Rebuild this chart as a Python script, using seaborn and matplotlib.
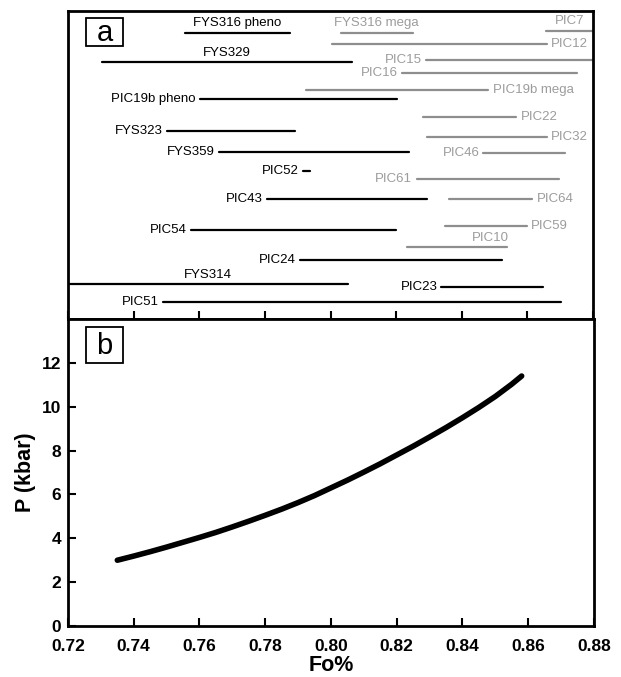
import numpy as np
import pandas as pd
import matplotlib
matplotlib.use("Agg")
import matplotlib.pyplot as plt
from matplotlib.patches import Rectangle
import seaborn as sns

# Panel a: Fo ranges of each sample (pheno = black, mega = grey)
names = ["FYS316 pheno", "FYS329", "PIC19b pheno", "FYS323", "FYS359", "PIC52",
         "PIC43", "PIC54", "PIC24", "FYS314", "PIC23", "PIC51",
         "FYS316 mega", "PIC7", "PIC12", "PIC15", "PIC16", "PIC19b mega",
         "PIC22", "PIC32", "PIC46", "PIC61", "PIC64", "PIC59", "PIC10"]
fo_min = [0.7556, 0.7303, 0.7602, 0.7501, 0.7659, 0.7915,
          0.7805, 0.7574, 0.7906, 0.7200, 0.8338, 0.7489,
          0.8031, 0.8657, 0.8003, 0.8292, 0.8219, 0.7924,
          0.8283, 0.8295, 0.8466, 0.8262, 0.8362, 0.8350, 0.8234]
fo_max = [0.7875, 0.8064, 0.8204, 0.7891, 0.8240, 0.7936,
          0.8295, 0.8198, 0.8523, 0.8052, 0.8648, 0.8703,
          0.8250, 0.8800, 0.8660, 0.8800, 0.8752, 0.8481,
          0.8566, 0.8660, 0.8715, 0.8697, 0.8615, 0.8599, 0.8539]
level = [286, 257, 220, 188, 167, 148, 120, 89, 59, 35, 32, 17,
         286, 288, 275, 259, 246, 229, 202, 182, 166, 140, 120, 93, 72]
kind = ["pheno"] * 12 + ["mega"] * 13
label_pos = ["above", "above", "left", "left", "left", "left", "left", "left",
             "left", "above", "left", "left",
             "above", "above", "right", "left", "left", "right", "right", "right",
             "left", "left", "right", "right", "above_r"]

# Panel b: P-Fo relation
fo_curve = [0.735, 0.74, 0.745, 0.75, 0.755, 0.76, 0.765, 0.77, 0.775, 0.78,
            0.785, 0.79, 0.795, 0.80, 0.805, 0.81, 0.815, 0.82, 0.825,
            0.83, 0.835, 0.84, 0.845, 0.85, 0.855, 0.858]
p_curve = [3.0, 3.19, 3.39, 3.6, 3.82, 4.04, 4.27, 4.52, 4.78, 5.05,
           5.33, 5.63, 5.95, 6.3, 6.65, 7.02, 7.4, 7.8, 8.2,
           8.62, 9.05, 9.5, 9.97, 10.47, 11.03, 11.4]
xticks = [0.72, 0.74, 0.76, 0.78, 0.80, 0.82, 0.84, 0.86, 0.88]
yticks = [0, 2, 4, 6, 8, 10, 12]

sns.set_style("ticks")
plt.rcParams["font.family"] = ["Liberation Sans", "DejaVu Sans"]
plt.rcParams.update({"text.color": "black", "axes.labelcolor": "black",
                     "xtick.color": "black", "ytick.color": "black"})

grey_line = "#8e8e8e"
grey_text = "#9c9c9c"
colors = {"pheno": "black", "mega": grey_line}
tcolors = {"pheno": "black", "mega": grey_text}

seg = pd.DataFrame({
    "sample": np.repeat(names, 2),
    "Fo": np.ravel(np.column_stack([fo_min, fo_max])),
    "level": np.repeat(level, 2),
    "kind": np.repeat(kind, 2),
})

fig = plt.figure(figsize=(6.21, 6.77), dpi=100)
ax_a = fig.add_axes([0.1095, 0.5288, 0.8455, 0.455])
ax_b = fig.add_axes([0.1095, 0.0753, 0.8470, 0.4535])

# ---- panel a
sns.lineplot(data=seg, x="Fo", y="level", units="sample", estimator=None,
             hue="kind", palette=colors, sort=False, legend=False,
             linewidth=1.6, ax=ax_a)
ax_a.set_xlim(0.72, 0.88)
ax_a.set_ylim(0, 308)
ax_a.set_yticks([])
ax_a.set_xticks(xticks)
ax_a.set_xticklabels([])
ax_a.set_xlabel("")
ax_a.set_ylabel("")
ax_a.tick_params(axis="x", direction="in", length=6, width=1.5)

for n, a, b, lv, k, p in zip(names, fo_min, fo_max, level, kind, label_pos):
    c = tcolors[k]
    if p == "left":
        ax_a.annotate(n, (a, lv), xytext=(-3, 0), textcoords="offset points",
                      ha="right", va="center", fontsize=9.5, color=c)
    elif p == "right":
        ax_a.annotate(n, (b, lv), xytext=(3, 0), textcoords="offset points",
                      ha="left", va="center", fontsize=9.5, color=c)
    elif p == "above":
        ax_a.annotate(n, ((a + b) / 2, lv), xytext=(0, 2.5), textcoords="offset points",
                      ha="center", va="bottom", fontsize=9.5, color=c)
    else:
        ax_a.annotate(n, (b, lv), xytext=(1, 2.5), textcoords="offset points",
                      ha="right", va="bottom", fontsize=9.5, color=c)

# ---- panel b
sns.lineplot(x=fo_curve, y=p_curve, color="black", linewidth=4,
             solid_capstyle="round", solid_joinstyle="round", ax=ax_b)
ax_b.set_xlim(0.72, 0.88)
ax_b.set_ylim(0, 14)
ax_b.set_xticks(xticks)
ax_b.set_xticklabels([f"{t:.2f}" for t in xticks], fontsize=12.5, fontweight="bold")
ax_b.set_yticks(yticks)
ax_b.set_yticklabels([str(t) for t in yticks], fontsize=12.5, fontweight="bold")
ax_b.tick_params(axis="both", direction="in", length=6, width=1.5, pad=5)
ax_b.tick_params(axis="x", pad=9)
ax_b.set_xlabel("Fo%", fontsize=15.5, fontweight="bold", labelpad=1)
ax_b.set_ylabel("P (kbar)", fontsize=15.5, fontweight="bold", labelpad=4)

for ax in (ax_a, ax_b):
    for s in ax.spines.values():
        s.set_visible(True)
        s.set_linewidth(2)
        s.set_color("black")

# panel letters in boxes
ax_a.add_patch(Rectangle((0.034, 0.886), 0.071, 0.091, transform=ax_a.transAxes,
                         fill=False, edgecolor="black", linewidth=1.3))
ax_a.text(0.0695, 0.928, "a", transform=ax_a.transAxes, ha="center", va="center",
          fontsize=21)
ax_b.add_patch(Rectangle((0.034, 0.857), 0.071, 0.117, transform=ax_b.transAxes,
                         fill=False, edgecolor="black", linewidth=1.3))
ax_b.text(0.0695, 0.913, "b", transform=ax_b.transAxes, ha="center", va="center",
          fontsize=21)

fig.savefig("out.png", dpi=100)
